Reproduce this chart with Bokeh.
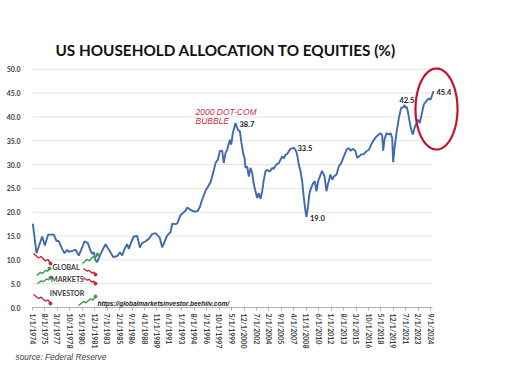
import numpy as np
from bokeh.plotting import figure
from bokeh.models import Label, FixedTicker, Range1d, NumeralTickFormatter, Title
from bokeh.embed import file_html
from bokeh.resources import INLINE

# ---------------- data ----------------
title_text = "US HOUSEHOLD ALLOCATION TO EQUITIES (%)"
source_text = "source: Federal Reserve"

tick_labels = ["1/1/1974", "8/1/1975", "3/1/1977", "10/1/1978", "5/1/1980", "12/1/1981",
               "7/1/1983", "2/1/1985", "9/1/1986", "4/1/1988", "11/1/1989", "6/1/1991",
               "1/1/1993", "8/1/1994", "3/1/1996", "10/1/1997", "5/1/1999", "12/1/2000",
               "7/1/2002", "2/1/2004", "9/1/2005", "4/1/2007", "11/1/2008", "6/1/2010",
               "1/1/2012", "8/1/2013", "3/1/2015", "10/1/2016", "5/1/2018", "12/1/2019",
               "7/1/2021", "2/1/2023", "9/1/2024"]

years = [1974.04, 1974.51, 1975.23, 1975.57, 1975.99, 1976.71, 1977.05, 1977.35, 1977.77,
         1978.07, 1978.41, 1978.62, 1979.05, 1979.47, 1979.89, 1980.32, 1980.62, 1981.04,
         1981.38, 1981.59, 1981.80, 1982.02, 1982.23, 1982.57, 1982.86, 1983.29, 1983.58,
         1983.92, 1984.26, 1984.56, 1984.86, 1985.11, 1985.41, 1985.70, 1986.04, 1986.26,
         1986.55, 1986.89, 1987.32, 1987.66, 1987.95, 1988.38, 1988.80, 1989.22, 1989.65,
         1989.95, 1990.20, 1990.50, 1990.79, 1991.13, 1991.56, 1991.77, 1992.07, 1992.41,
         1992.83, 1993.17, 1993.47, 1993.68, 1994.02, 1994.31, 1994.74, 1995.03, 1995.29,
         1995.58, 1996.01, 1996.65, 1996.98, 1997.28, 1997.58, 1997.83, 1998.13, 1998.34,
         1998.55, 1998.77, 1999.11, 1999.28, 1999.49, 1999.83, 2000.12, 2000.38, 2000.55,
         2000.80, 2000.97, 2001.10, 2001.31, 2001.52, 2001.74, 2001.95, 2002.16, 2002.37,
         2002.58, 2002.80, 2003.01, 2003.22, 2003.43, 2003.64, 2003.86, 2004.07, 2004.28,
         2004.49, 2004.70, 2004.92, 2005.13, 2005.34, 2005.55, 2005.76, 2005.98, 2006.19,
         2006.40, 2006.61, 2006.82, 2007.25, 2007.46, 2007.67, 2007.88, 2008.10, 2008.31,
         2008.52, 2008.73, 2008.86, 2009.03, 2009.24, 2009.45, 2009.71, 2009.92, 2010.13,
         2010.34, 2010.56, 2010.85, 2011.15, 2011.40, 2011.62, 2011.91, 2012.13, 2012.34,
         2012.68, 2012.97, 2013.27, 2013.61, 2013.95, 2014.25, 2014.46, 2014.80, 2015.09,
         2015.31, 2015.52, 2015.81, 2016.15, 2016.49, 2016.79, 2017.09, 2017.43, 2017.77,
         2018.06, 2018.27, 2018.49, 2018.61, 2018.78, 2019.04, 2019.34, 2019.55, 2019.76,
         2019.89, 2020.06, 2020.31, 2020.61, 2020.90, 2021.16, 2021.33, 2021.46, 2021.58,
         2021.75, 2022.01, 2022.18, 2022.39, 2022.60, 2022.86, 2023.07, 2023.28, 2023.45,
         2023.79, 2024.13, 2024.43, 2024.64, 2024.85, 2024.98, 2025.06]

shares = [17.6, 11.4, 14.9, 13.0, 15.3, 15.3, 14.0, 13.9, 12.3,
          11.4, 12.1, 11.7, 11.9, 12.1, 10.9, 12.6, 13.9, 13.5,
          11.9, 11.25, 11.6, 9.9, 9.5, 10.9, 11.9, 13.3, 12.5,
          11.6, 10.6, 10.7, 10.9, 11.6, 10.9, 12.3, 13.3, 12.3,
          13.7, 14.9, 15.0, 12.6, 13.5, 13.9, 14.4, 15.4, 15.6,
          15.1, 14.6, 12.6, 13.7, 15.1, 15.8, 17.6, 17.5, 17.6,
          19.4, 19.9, 20.3, 21.0, 20.6, 20.3, 20.1, 20.3, 21.1,
          22.6, 24.5, 26.3, 28.2, 30.3, 31.0, 32.8, 32.9, 30.3,
          32.4, 33.1, 35.2, 34.2, 36.6, 38.7, 37.3, 37.0, 34.9,
          32.4, 31.4, 29.3, 29.6, 27.5, 29.3, 28.2, 25.8, 24.4,
          23.0, 24.0, 22.8, 24.4, 26.8, 28.6, 28.9, 28.6, 28.7,
          29.3, 29.1, 29.8, 30.1, 30.3, 31.0, 31.7, 31.3, 32.1,
          32.2, 32.8, 33.3, 33.5, 33.1, 32.1, 30.0, 28.6, 26.5,
          23.0, 20.2, 19.0, 20.9, 24.0, 25.1, 26.1, 26.5, 24.4,
          26.5, 27.5, 28.7, 27.5, 24.4, 26.1, 27.9, 26.8, 27.5,
          27.9, 29.6, 30.3, 31.7, 33.1, 33.5, 32.9, 33.3, 32.8,
          31.4, 31.7, 32.1, 32.2, 32.8, 33.1, 34.2, 35.2, 35.9,
          36.3, 36.6, 36.1, 32.9, 35.2, 36.6, 36.3, 36.6, 35.6,
          30.5, 33.5, 36.6, 39.8, 41.9, 42.0, 42.5, 41.9, 42.2,
          41.2, 38.7, 37.3, 36.3, 37.7, 38.7, 39.4, 38.7, 40.1,
          42.6, 43.4, 43.9, 43.6, 44.6, 45.2, 45.4]

peak_texts = ["38.7", "33.5", "19.0", "42.5", "45.4"]
y_ticks = [0, 5, 10, 15, 20, 25, 30, 35, 40, 45, 50]

# ---------------- geometry helpers (canvas pixel -> data) ----------------
PX_PER_MONTH = 7.86 / 12.0
FRAME_L, FRAME_T = 31, 64
FRAME_W, FRAME_H = 429, 243
Y_MAX = 51.0
PX_PER_UNIT = FRAME_H / Y_MAX
X0_PAGE, Y0_PAGE = 32.0, FRAME_T + FRAME_H   # pixel position of month 0 / value 0


def PX(px):
    return (px - X0_PAGE) / PX_PER_MONTH


def PY(py):
    return (Y0_PAGE - py) / PX_PER_UNIT


def to_month(label):
    m, d, y = [int(v) for v in label.split("/")]
    return (y - 1974) * 12 + (m - 1)


months = [(y - 1974.0) * 12.0 for y in years]
tick_pos = [to_month(t) for t in tick_labels]

p = figure(frame_width=FRAME_W, frame_height=FRAME_H,
           min_border_left=FRAME_L, min_border_right=525 - FRAME_L - FRAME_W,
           min_border_top=FRAME_T, min_border_bottom=368 - FRAME_T - FRAME_H,
           x_range=Range1d(PX(FRAME_L), PX(FRAME_L + FRAME_W)), y_range=Range1d(0, Y_MAX),
           output_backend="svg", toolbar_location=None,
           background_fill_color="white", border_fill_color="white")
p.outline_line_color = None
p.xgrid.visible = False
p.ygrid.visible = False

# title (above) and source (below)
p.title.text = title_text
p.title.align = "left"
p.title.offset = 24
p.title.standoff = 11
p.title.text_font = "Lato"
p.title.text_font_style = "bold"
p.title.text_font_size = "15.3px"
p.title.text_color = "#111111"

p.add_layout(Title(text=source_text, align="left", offset=-16, standoff=-3,
                   text_font="Liberation Sans", text_font_style="italic",
                   text_font_size="8.3px", text_color="#404040"), "below")

# horizontal gridlines (limited to the data span)
gx_end = PX(432)
p.segment(x0=[0] * (len(y_ticks) - 1), x1=[gx_end] * (len(y_ticks) - 1),
          y0=y_ticks[1:], y1=y_ticks[1:], line_color="#e3e3e3", line_width=1)

# axes
yax = p.yaxis[0]
yax.ticker = FixedTicker(ticks=y_ticks)
yax.formatter = NumeralTickFormatter(format="0.0")
yax.axis_line_color = None
yax.major_tick_line_color = None
yax.minor_tick_line_color = None
yax.major_label_text_font = "Lato"
yax.major_label_text_font_style = "bold"
yax.major_label_text_font_size = "7px"
yax.major_label_text_color = "#404040"
yax.major_label_standoff = 5

xax = p.xaxis[0]
xax.ticker = FixedTicker(ticks=tick_pos)
xax.major_label_overrides = {tp: lab for tp, lab in zip(tick_pos, tick_labels)}
xax.bounds = (0, gx_end)
xax.axis_line_color = "#b0b0b0"
xax.major_tick_line_color = "#b0b0b0"
xax.major_tick_in = 0
xax.major_tick_out = 3
xax.minor_tick_line_color = None
xax.major_label_orientation = "vertical"
xax.major_label_text_font = "Lato"
xax.major_label_text_font_style = "bold"
xax.major_label_text_font_size = "7px"
xax.major_label_text_color = "#404040"
xax.major_label_standoff = 3

# main series
p.line(months, shares, line_color="#4169ad", line_width=1.9)

# red ellipse around the latest values (drawn as a closed outline)
theta = np.linspace(0, 2 * np.pi, 120)
ecx, ecy, erx, ery = 436, 108.5, 21, 40.5
p.line([PX(ecx + erx * np.cos(t)) for t in theta], [PY(ecy + ery * np.sin(t)) for t in theta],
       line_color="#c8102e", line_width=2.2)

# value labels
label_pos = [(239, 123.5), (297, 147.5), (309.5, 217), (399, 99.5), (436, 91)]
for txt, (lx, ly) in zip(peak_texts, label_pos):
    p.add_layout(Label(x=PX(lx), y=PY(ly), text=txt, text_align="left", text_baseline="middle",
                       text_font="Lato", text_font_style="bold", text_font_size="7.5px",
                       text_color="#1a1a1a"))

# dot-com annotation
for txt, ly in [("2000 DOT-COM", 111), ("BUBBLE", 120)]:
    p.add_layout(Label(x=PX(195), y=PY(ly), text=txt, text_align="left", text_baseline="middle",
                       text_font="Liberation Sans", text_font_style="italic",
                       text_font_size="8.5px", text_color="#c0304a"))

# watermark logo (decoration)
zig_fx = [0, 0.3, 0.45, 0.7, 0.85, 1.0]
zig_fy = [0, 0.45, 0.3, 0.75, 0.6, 1.0]
zigs = [((33, 253), (50, 263), "#c0283c"), ((36, 275), (49, 268), "#3c9a4a"),
        ((37, 283), (50, 277), "#3c9a4a"), ((33, 294), (50, 303), "#c0283c"),
        ((78, 305), (95, 296), "#3c9a4a"), ((83, 268), (95, 274), "#c0283c"),
        ((83, 277), (95, 283), "#c0283c"), ((82, 263), (97, 254), "#3c9a4a")]
for (sx, sy), (ex, ey), col in zigs:
    zx = [PX(sx + (ex - sx) * f) for f in zig_fx]
    zy = [PY(sy + (ey - sy) * f) for f in zig_fy]
    p.line(zx, zy, line_color=col, line_width=1.4)
    p.scatter([zx[-1]], [zy[-1]], size=3, color=col)

for txt, cx, cy in [("GLOBAL", 65.5, 266), ("MARKETS", 67, 278.5), ("INVESTOR", 66.5, 292)]:
    p.add_layout(Label(x=PX(cx), y=PY(cy), text=txt, text_align="center", text_baseline="middle",
                       text_font="Lato", text_font_style="bold", text_font_size="7px",
                       text_color="#3a3a3a"))
p.add_layout(Label(x=PX(97), y=PY(302.5), text="https://globalmarketsinvestor.beehiiv.com/",
                   text_align="left", text_baseline="middle", text_font="Liberation Sans",
                   text_font_style="bold italic", text_font_size="6.5px", text_color="#222222"))

open("out.html", "w").write(file_html(p, INLINE))
